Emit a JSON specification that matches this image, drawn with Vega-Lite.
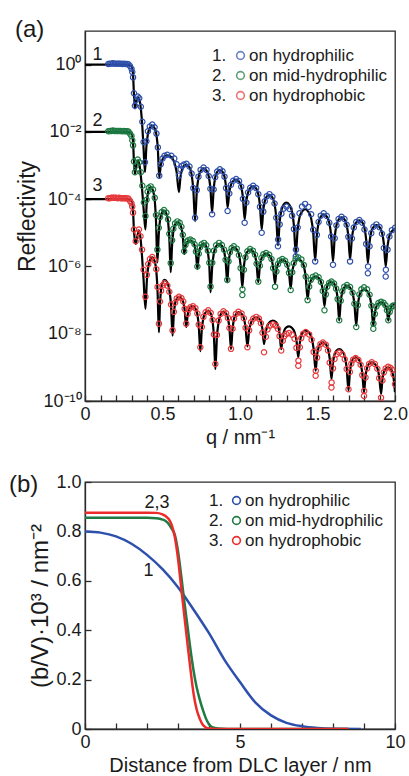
{
  "$schema": "https://vega.github.io/schema/vega-lite/v6.json",
  "padding": {"left": 8, "top": 17, "right": 0, "bottom": 0},
  "config": {
    "font": "Liberation Sans",
    "view": {"stroke": "#2b2b2b", "strokeWidth": 1.3},
    "axis": {"grid": false, "domainColor": "#2b2b2b", "domainWidth": 1.3, "tickColor": "#2b2b2b", "tickWidth": 1.3, "tickSize": -6, "labelPadding": 10, "labelFontSize": 18, "labelColor": "#1a1a1a", "labelOverlap": false, "labelFlush": false, "titleFontSize": 20, "titleFontWeight": "normal", "titleColor": "#1a1a1a", "labelFont": "Liberation Sans", "titleFont": "Liberation Sans"},
    "legend": {"labelFontSize": 17, "labelFont": "Liberation Sans", "labelColor": "#1a1a1a", "padding": 0, "rowPadding": 2},
    "title": {"fontSize": 24, "fontWeight": "normal", "anchor": "start", "frame": "bounds", "baseline": "middle", "offset": 0, "color": "#1a1a1a"}
  },
  "resolve": {
    "scale": {"color": "independent", "opacity": "independent"},
    "legend": {"color": "independent", "opacity": "independent"}
  },
  "datasets": {
    "names": [
      {"c": 1, "name": "on hydrophilic"},
      {"c": 2, "name": "on mid-hydrophilic"},
      {"c": 3, "name": "on hydrophobic"}
    ],
    "refl": [
      {"c":1,"q":0,"m":0},{"c":1,"q":0.15,"m":0,"d":0.02},{"c":1,"q":0.16,"d":0.03},{"c":1,"q":0.17,"d":0.03},{"c":1,"q":0.18,"d":0.04},{"c":1,"q":0.19,"d":0.03},{"c":1,"q":0.2,"d":0.03},{"c":1,"q":0.21,"d":0.03},{"c":1,"q":0.22,"d":0.03},{"c":1,"q":0.23,"d":0.03},{"c":1,"q":0.24,"d":0.02},{"c":1,"q":0.25,"d":0.03},{"c":1,"q":0.26,"d":0.02},{"c":1,"q":0.27,"d":0.02},
      {"c":1,"q":0.28,"m":0,"d":0.01},{"c":1,"q":0.29,"m":-0.02,"d":-0.04},{"c":1,"q":0.3,"m":-0.06,"d":-0.12},{"c":1,"q":0.305,"m":-0.12,"d":-0.22},{"c":1,"q":0.31,"m":-0.3,"d":-0.38},{"c":1,"q":0.316,"m":-0.9,"d":-0.85},{"c":1,"q":0.322,"m":-1.3,"d":-1.22},{"c":1,"q":0.33,"m":-1.12,"d":-1.05},{"c":1,"q":0.34,"m":-0.97,"d":-0.95},{"c":1,"q":0.35,"m":-1.02,"d":-1.0},{"c":1,"q":0.36,"m":-1.3,"d":-1.25},{"c":1,"q":0.37,"m":-1.85,"d":-1.7},{"c":1,"q":0.378,"m":-2.5,"d":-2.3},{"c":1,"q":0.387,"m":-3.2,"d":-2.9},
      {"c":1,"q":0.396,"m":-2.44,"d":-2.28},{"c":1,"q":0.406,"m":-2.06,"d":-1.98},{"c":1,"q":0.418,"m":-1.88,"d":-1.84},{"c":1,"q":0.434,"m":-1.81,"d":-1.78},{"c":1,"q":0.449,"m":-1.89,"d":-1.86},{"c":1,"q":0.461,"m":-2.09,"d":-2.05},{"c":1,"q":0.47,"m":-2.5,"d":-2.46},{"c":1,"q":0.479,"m":-3.35,"d":-3.3},
      {"c":1,"q":0.489,"m":-2.99,"d":-2.96},{"c":1,"q":0.5,"m":-2.82,"d":-2.79},{"c":1,"q":0.513,"m":-2.73,"d":-2.71},{"c":1,"q":0.531,"m":-2.7,"d":-2.68},{"c":1,"q":0.557,"m":-2.75,"d":-2.71},{"c":1,"q":0.576,"m":-2.9,"d":-2.79},{"c":1,"q":0.591,"m":-3.19,"d":-2.96},{"c":1,"q":0.606,"m":-3.79,"d":-3.3},
      {"c":1,"q":0.616,"m":-3.34,"d":-3.11},{"c":1,"q":0.626,"m":-3.12,"d":-3.01},{"c":1,"q":0.638,"m":-3.01,"d":-2.97},{"c":1,"q":0.655,"m":-2.97,"d":-2.95},{"c":1,"q":0.674,"m":-3.05,"d":-3.03},{"c":1,"q":0.688,"m":-3.27,"d":-3.24},{"c":1,"q":0.699,"m":-3.73,"d":-3.67},{"c":1,"q":0.71,"m":-4.65,"d":-4.55},
      {"c":1,"q":0.721,"m":-3.79,"d":-3.73},{"c":1,"q":0.732,"m":-3.36,"d":-3.33},{"c":1,"q":0.746,"m":-3.16,"d":-3.13},{"c":1,"q":0.765,"m":-3.08,"d":-3.06},{"c":1,"q":0.784,"m":-3.15,"d":-3.13},{"c":1,"q":0.798,"m":-3.32,"d":-3.31},{"c":1,"q":0.809,"m":-3.67,"d":-3.69},{"c":1,"q":0.82,"m":-4.4,"d":-4.45},
      {"c":1,"q":0.83,"m":-3.7,"d":-3.71},{"c":1,"q":0.84,"m":-3.36,"d":-3.35},{"c":1,"q":0.853,"m":-3.19,"d":-3.18},{"c":1,"q":0.87,"m":-3.13,"d":-3.11},{"c":1,"q":0.887,"m":-3.19,"d":-3.17},{"c":1,"q":0.9,"m":-3.33,"d":-3.33},{"c":1,"q":0.91,"m":-3.63,"d":-3.67},{"c":1,"q":0.92,"m":-4.25,"d":-4.35},
      {"c":1,"q":0.931,"m":-3.79,"d":-3.83},{"c":1,"q":0.942,"m":-3.57,"d":-3.57},{"c":1,"q":0.956,"m":-3.46,"d":-3.45},{"c":1,"q":0.975,"m":-3.42,"d":-3.4},{"c":1,"q":0.994,"m":-3.48,"d":-3.46},{"c":1,"q":1.008,"m":-3.63,"d":-3.63},{"c":1,"q":1.019,"m":-3.95,"d":-3.99},{"c":1,"q":1.03,"m":-4.6,"d":-4.7},
      {"c":1,"q":1.041,"m":-4.06,"d":-4.1},{"c":1,"q":1.052,"m":-3.8,"d":-3.8},{"c":1,"q":1.066,"m":-3.67,"d":-3.66},{"c":1,"q":1.085,"m":-3.62,"d":-3.6},{"c":1,"q":1.104,"m":-3.68,"d":-3.67},{"c":1,"q":1.118,"m":-3.85,"d":-3.85},{"c":1,"q":1.129,"m":-4.2,"d":-4.23},{"c":1,"q":1.14,"m":-4.9,"d":-5.0},
      {"c":1,"q":1.15,"m":-4.33,"d":-4.37},{"c":1,"q":1.16,"m":-4.06,"d":-4.06},{"c":1,"q":1.173,"m":-3.92,"d":-3.91},{"c":1,"q":1.19,"m":-3.87,"d":-3.85},{"c":1,"q":1.209,"m":-3.95,"d":-3.93},{"c":1,"q":1.223,"m":-4.14,"d":-4.13},{"c":1,"q":1.234,"m":-4.55,"d":-4.55},{"c":1,"q":1.245,"m":-5.37,"d":-5.4},{"c":1,"q":1.246,"d":-5.2},
      {"c":1,"q":1.256,"m":-4.67,"d":-4.75},{"c":1,"q":1.267,"m":-4.33,"d":-4.43},{"c":1,"q":1.281,"m":-4.16,"d":-4.28},{"c":1,"q":1.3,"m":-4.1,"d":-4.22},{"c":1,"q":1.32,"m":-4.18,"d":-4.29},{"c":1,"q":1.336,"m":-4.38,"d":-4.49},{"c":1,"q":1.348,"m":-4.79,"d":-4.89},{"c":1,"q":1.36,"m":-5.64,"d":-5.7},{"c":1,"q":1.361,"d":-5.5},
      {"c":1,"q":1.372,"m":-4.9,"d":-4.84},{"c":1,"q":1.384,"m":-4.54,"d":-4.42},{"c":1,"q":1.4,"m":-4.37,"d":-4.22},{"c":1,"q":1.42,"m":-4.3,"d":-4.14},{"c":1,"q":1.442,"m":-4.38,"d":-4.23},{"c":1,"q":1.459,"m":-4.57,"d":-4.45},{"c":1,"q":1.472,"m":-4.98,"d":-4.91},{"c":1,"q":1.485,"m":-5.82,"d":-5.85},
      {"c":1,"q":1.496,"m":-5.07,"d":-5.06},{"c":1,"q":1.507,"m":-4.7,"d":-4.68},{"c":1,"q":1.521,"m":-4.52,"d":-4.49},{"c":1,"q":1.54,"m":-4.45,"d":-4.42},{"c":1,"q":1.56,"m":-4.52,"d":-4.5},{"c":1,"q":1.576,"m":-4.7,"d":-4.7},{"c":1,"q":1.588,"m":-5.08,"d":-5.11},{"c":1,"q":1.6,"m":-5.85,"d":-5.95},
      {"c":1,"q":1.611,"m":-5.13,"d":-5.16},{"c":1,"q":1.622,"m":-4.78,"d":-4.78},{"c":1,"q":1.636,"m":-4.61,"d":-4.59},{"c":1,"q":1.655,"m":-4.54,"d":-4.52},{"c":1,"q":1.674,"m":-4.6,"d":-4.59},{"c":1,"q":1.688,"m":-4.77,"d":-4.76},{"c":1,"q":1.699,"m":-5.1,"d":-5.12},{"c":1,"q":1.71,"m":-5.79,"d":-5.85},
      {"c":1,"q":1.722,"m":-5.15,"d":-5.17},{"c":1,"q":1.734,"m":-4.84,"d":-4.84},{"c":1,"q":1.75,"m":-4.69,"d":-4.68},{"c":1,"q":1.77,"m":-4.63,"d":-4.62},{"c":1,"q":1.789,"m":-4.69,"d":-4.7},{"c":1,"q":1.803,"m":-4.86,"d":-4.9},{"c":1,"q":1.814,"m":-5.2,"d":-5.33},{"c":1,"q":1.825,"m":-5.9,"d":-6.2},{"c":1,"q":1.826,"d":-6.0},
      {"c":1,"q":1.836,"m":-5.28,"d":-5.4},{"c":1,"q":1.847,"m":-4.97,"d":-5.01},{"c":1,"q":1.861,"m":-4.83,"d":-4.82},{"c":1,"q":1.88,"m":-4.77,"d":-4.75},{"c":1,"q":1.9,"m":-4.83,"d":-4.83},{"c":1,"q":1.916,"m":-4.99,"d":-5.03},{"c":1,"q":1.928,"m":-5.32,"d":-5.45},{"c":1,"q":1.94,"m":-6.0,"d":-6.3},{"c":1,"q":1.941,"d":-6.1},
      {"c":1,"q":1.952,"m":-5.39,"d":-5.5},{"c":1,"q":1.964,"m":-5.09,"d":-5.11},{"c":1,"q":1.98,"m":-4.95,"d":-4.92},{"c":1,"q":2.0,"m":-4.89,"d":-4.85},

      {"c":2,"q":0,"m":-2},{"c":2,"q":0.15,"m":-2,"d":-1.98},{"c":2,"q":0.16,"d":-1.97},{"c":2,"q":0.17,"d":-1.97},{"c":2,"q":0.18,"d":-1.96},{"c":2,"q":0.19,"d":-1.97},{"c":2,"q":0.2,"d":-1.97},{"c":2,"q":0.21,"d":-1.97},{"c":2,"q":0.22,"d":-1.97},{"c":2,"q":0.23,"d":-1.97},{"c":2,"q":0.24,"d":-1.98},{"c":2,"q":0.25,"d":-1.97},{"c":2,"q":0.26,"d":-1.98},{"c":2,"q":0.27,"d":-1.98},
      {"c":2,"q":0.28,"m":-2,"d":-1.99},{"c":2,"q":0.29,"m":-2.02,"d":-2.05},{"c":2,"q":0.3,"m":-2.06,"d":-2.12},{"c":2,"q":0.305,"m":-2.12,"d":-2.25},{"c":2,"q":0.31,"m":-2.3,"d":-2.4},{"c":2,"q":0.316,"m":-2.9,"d":-2.88},{"c":2,"q":0.322,"m":-3.25,"d":-3.2},{"c":2,"q":0.33,"m":-3.05,"d":-3.0},{"c":2,"q":0.34,"m":-2.85,"d":-2.82},{"c":2,"q":0.35,"m":-2.95,"d":-2.9},{"c":2,"q":0.36,"m":-3.3,"d":-3.2},{"c":2,"q":0.37,"m":-3.8,"d":-3.6},{"c":2,"q":0.38,"m":-4.4,"d":-4.1},{"c":2,"q":0.39,"m":-4.9,"d":-4.5},
      {"c":2,"q":0.397,"m":-4.21,"d":-4.02},{"c":2,"q":0.404,"m":-3.87,"d":-3.78},{"c":2,"q":0.412,"m":-3.7,"d":-3.66},{"c":2,"q":0.424,"m":-3.64,"d":-3.62},{"c":2,"q":0.439,"m":-3.75,"d":-3.71},{"c":2,"q":0.45,"m":-4.04,"d":-3.96},{"c":2,"q":0.458,"m":-4.65,"d":-4.47},{"c":2,"q":0.467,"m":-5.88,"d":-5.5},
      {"c":2,"q":0.476,"m":-5.03,"d":-4.85},{"c":2,"q":0.484,"m":-4.62,"d":-4.53},{"c":2,"q":0.495,"m":-4.42,"d":-4.38},{"c":2,"q":0.51,"m":-4.34,"d":-4.32},{"c":2,"q":0.525,"m":-4.43,"d":-4.4},{"c":2,"q":0.536,"m":-4.67,"d":-4.6},{"c":2,"q":0.544,"m":-5.16,"d":-5.03},{"c":2,"q":0.553,"m":-6.17,"d":-5.9},
      {"c":2,"q":0.562,"m":-5.35,"d":-5.22},{"c":2,"q":0.57,"m":-4.95,"d":-4.88},{"c":2,"q":0.581,"m":-4.75,"d":-4.72},{"c":2,"q":0.596,"m":-4.68,"d":-4.66},{"c":2,"q":0.611,"m":-4.73,"d":-4.7},{"c":2,"q":0.622,"m":-4.85,"d":-4.82},{"c":2,"q":0.631,"m":-5.11,"d":-5.06},{"c":2,"q":0.64,"m":-5.63,"d":-5.55},
      {"c":2,"q":0.648,"m":-5.41,"d":-5.36},{"c":2,"q":0.656,"m":-5.3,"d":-5.26},{"c":2,"q":0.666,"m":-5.25,"d":-5.22},{"c":2,"q":0.68,"m":-5.23,"d":-5.2},{"c":2,"q":0.695,"m":-5.27,"d":-5.24},{"c":2,"q":0.707,"m":-5.38,"d":-5.34},{"c":2,"q":0.716,"m":-5.61,"d":-5.56},{"c":2,"q":0.725,"m":-6.07,"d":-6.0},
      {"c":2,"q":0.734,"m":-5.66,"d":-5.62},{"c":2,"q":0.742,"m":-5.46,"d":-5.43},{"c":2,"q":0.753,"m":-5.37,"d":-5.34},{"c":2,"q":0.768,"m":-5.33,"d":-5.3},{"c":2,"q":0.782,"m":-5.4,"d":-5.37},{"c":2,"q":0.793,"m":-5.59,"d":-5.53},{"c":2,"q":0.802,"m":-5.98,"d":-5.89},{"c":2,"q":0.81,"m":-6.77,"d":-6.6},
      {"c":2,"q":0.821,"m":-5.98,"d":-5.89},{"c":2,"q":0.832,"m":-5.59,"d":-5.53},{"c":2,"q":0.846,"m":-5.4,"d":-5.37},{"c":2,"q":0.865,"m":-5.33,"d":-5.3},{"c":2,"q":0.883,"m":-5.39,"d":-5.36},{"c":2,"q":0.897,"m":-5.54,"d":-5.5},{"c":2,"q":0.907,"m":-5.84,"d":-5.8},{"c":2,"q":0.918,"m":-6.47,"d":-6.4},
      {"c":2,"q":0.926,"m":-5.9,"d":-5.85},{"c":2,"q":0.935,"m":-5.62,"d":-5.58},{"c":2,"q":0.946,"m":-5.48,"d":-5.45},{"c":2,"q":0.96,"m":-5.43,"d":-5.4},{"c":2,"q":0.979,"m":-5.49,"d":-5.47},{"c":2,"q":0.993,"m":-5.64,"d":-5.66},{"c":2,"q":1.004,"m":-5.97,"d":-6.05},{"c":2,"q":1.015,"m":-6.62,"d":-6.85},{"c":2,"q":1.016,"d":-6.68},
      {"c":2,"q":1.025,"m":-6.0,"d":-6.1},{"c":2,"q":1.035,"m":-5.7,"d":-5.73},{"c":2,"q":1.048,"m":-5.56,"d":-5.55},{"c":2,"q":1.065,"m":-5.5,"d":-5.48},{"c":2,"q":1.083,"m":-5.55,"d":-5.53},{"c":2,"q":1.097,"m":-5.67,"d":-5.65},{"c":2,"q":1.107,"m":-5.94,"d":-5.92},{"c":2,"q":1.118,"m":-6.47,"d":-6.45},
      {"c":2,"q":1.128,"m":-6.0,"d":-5.98},{"c":2,"q":1.138,"m":-5.77,"d":-5.75},{"c":2,"q":1.151,"m":-5.66,"d":-5.64},{"c":2,"q":1.168,"m":-5.62,"d":-5.6},{"c":2,"q":1.188,"m":-5.67,"d":-5.65},{"c":2,"q":1.203,"m":-5.78,"d":-5.78},{"c":2,"q":1.214,"m":-6.03,"d":-6.05},{"c":2,"q":1.226,"m":-6.52,"d":-6.6},
      {"c":2,"q":1.235,"m":-6.12,"d":-6.15},{"c":2,"q":1.245,"m":-5.93,"d":-5.93},{"c":2,"q":1.257,"m":-5.84,"d":-5.82},{"c":2,"q":1.273,"m":-5.8,"d":-5.78},{"c":2,"q":1.291,"m":-5.84,"d":-5.83},{"c":2,"q":1.305,"m":-5.95,"d":-5.95},{"c":2,"q":1.316,"m":-6.18,"d":-6.19},{"c":2,"q":1.327,"m":-6.65,"d":-6.7},
      {"c":2,"q":1.337,"m":-6.17,"d":-6.17},{"c":2,"q":1.347,"m":-5.94,"d":-5.9},{"c":2,"q":1.359,"m":-5.82,"d":-5.78},{"c":2,"q":1.376,"m":-5.78,"d":-5.73},{"c":2,"q":1.396,"m":-5.84,"d":-5.79},{"c":2,"q":1.412,"m":-5.99,"d":-5.96},{"c":2,"q":1.424,"m":-6.32,"d":-6.3},{"c":2,"q":1.436,"m":-6.97,"d":-7.0},
      {"c":2,"q":1.446,"m":-6.6,"d":-6.6},{"c":2,"q":1.457,"m":-6.42,"d":-6.4},{"c":2,"q":1.47,"m":-6.33,"d":-6.31},{"c":2,"q":1.488,"m":-6.3,"d":-6.27},{"c":2,"q":1.507,"m":-6.34,"d":-6.32},{"c":2,"q":1.522,"m":-6.46,"d":-6.46},{"c":2,"q":1.534,"m":-6.7,"d":-6.73},{"c":2,"q":1.545,"m":-7.18,"d":-7.3},
      {"c":2,"q":1.554,"m":-6.78,"d":-6.83},{"c":2,"q":1.563,"m":-6.58,"d":-6.6},{"c":2,"q":1.575,"m":-6.49,"d":-6.49},{"c":2,"q":1.59,"m":-6.45,"d":-6.45},{"c":2,"q":1.607,"m":-6.51,"d":-6.51},{"c":2,"q":1.62,"m":-6.66,"d":-6.66},{"c":2,"q":1.63,"m":-6.97,"d":-6.97},{"c":2,"q":1.64,"m":-7.61,"d":-7.6},
      {"c":2,"q":1.65,"m":-7.04,"d":-7.02},{"c":2,"q":1.66,"m":-6.76,"d":-6.74},{"c":2,"q":1.673,"m":-6.62,"d":-6.6},{"c":2,"q":1.69,"m":-6.57,"d":-6.55},{"c":2,"q":1.71,"m":-6.63,"d":-6.61},{"c":2,"q":1.726,"m":-6.78,"d":-6.78},{"c":2,"q":1.738,"m":-7.11,"d":-7.11},{"c":2,"q":1.75,"m":-7.76,"d":-7.8},
      {"c":2,"q":1.76,"m":-7.17,"d":-7.15},{"c":2,"q":1.77,"m":-6.87,"d":-6.83},{"c":2,"q":1.783,"m":-6.73,"d":-6.68},{"c":2,"q":1.8,"m":-6.68,"d":-6.62},{"c":2,"q":1.82,"m":-6.73,"d":-6.68},{"c":2,"q":1.836,"m":-6.87,"d":-6.84},{"c":2,"q":1.848,"m":-7.17,"d":-7.17},{"c":2,"q":1.86,"m":-7.76,"d":-7.85},{"c":2,"q":1.861,"d":-7.7},
      {"c":2,"q":1.87,"m":-7.38,"d":-7.41},{"c":2,"q":1.88,"m":-7.19,"d":-7.19},{"c":2,"q":1.893,"m":-7.1,"d":-7.09},{"c":2,"q":1.91,"m":-7.07,"d":-7.05},{"c":2,"q":1.926,"m":-7.1,"d":-7.08},{"c":2,"q":1.938,"m":-7.17,"d":-7.15},{"c":2,"q":1.948,"m":-7.31,"d":-7.3},{"c":2,"q":1.957,"m":-7.61,"d":-7.6},
      {"c":2,"q":1.966,"m":-7.34,"d":-7.35},{"c":2,"q":1.974,"m":-7.21,"d":-7.23},{"c":2,"q":1.985,"m":-7.14,"d":-7.17},{"c":2,"q":2.0,"m":-7.12,"d":-7.15},

      {"c":3,"q":0,"m":-4},{"c":3,"q":0.15,"m":-4,"d":-3.97},{"c":3,"q":0.16,"d":-3.97},{"c":3,"q":0.17,"d":-3.96},{"c":3,"q":0.18,"d":-3.96},{"c":3,"q":0.19,"d":-3.96},{"c":3,"q":0.2,"d":-3.96},{"c":3,"q":0.21,"d":-3.97},{"c":3,"q":0.22,"d":-3.96},{"c":3,"q":0.23,"d":-3.97},{"c":3,"q":0.24,"d":-3.97},{"c":3,"q":0.25,"d":-3.97},{"c":3,"q":0.26,"d":-3.97},{"c":3,"q":0.27,"d":-3.98},
      {"c":3,"q":0.28,"m":-4,"d":-3.98},{"c":3,"q":0.29,"m":-4.02,"d":-4.05},{"c":3,"q":0.3,"m":-4.06,"d":-4.12},{"c":3,"q":0.305,"m":-4.12,"d":-4.22},{"c":3,"q":0.31,"m":-4.35,"d":-4.4},{"c":3,"q":0.316,"m":-4.95,"d":-4.9},{"c":3,"q":0.327,"m":-5.33,"d":-5.25},{"c":3,"q":0.338,"m":-5.1,"d":-5.0},{"c":3,"q":0.348,"m":-4.93,"d":-4.9},{"c":3,"q":0.358,"m":-5.15,"d":-5.1},{"c":3,"q":0.368,"m":-5.7,"d":-5.5},{"c":3,"q":0.378,"m":-6.4,"d":-6.1},{"c":3,"q":0.39,"m":-7.26,"d":-6.9},
      {"c":3,"q":0.399,"m":-6.42,"d":-6.25},{"c":3,"q":0.408,"m":-6.01,"d":-5.93},{"c":3,"q":0.419,"m":-5.81,"d":-5.78},{"c":3,"q":0.434,"m":-5.73,"d":-5.72},{"c":3,"q":0.449,"m":-5.84,"d":-5.82},{"c":3,"q":0.46,"m":-6.13,"d":-6.08},{"c":3,"q":0.468,"m":-6.73,"d":-6.61},{"c":3,"q":0.477,"m":-7.96,"d":-7.7},
      {"c":3,"q":0.484,"m":-7.1,"d":-7.04},{"c":3,"q":0.491,"m":-6.68,"d":-6.72},{"c":3,"q":0.501,"m":-6.48,"d":-6.56},{"c":3,"q":0.513,"m":-6.4,"d":-6.5},{"c":3,"q":0.531,"m":-6.48,"d":-6.57},{"c":3,"q":0.544,"m":-6.7,"d":-6.75},{"c":3,"q":0.555,"m":-7.15,"d":-7.13},{"c":3,"q":0.565,"m":-8.06,"d":-7.9},
      {"c":3,"q":0.573,"m":-7.42,"d":-7.35},{"c":3,"q":0.581,"m":-7.11,"d":-7.08},{"c":3,"q":0.592,"m":-6.96,"d":-6.95},{"c":3,"q":0.606,"m":-6.9,"d":-6.9},{"c":3,"q":0.622,"m":-6.95,"d":-6.94},{"c":3,"q":0.634,"m":-7.06,"d":-7.04},{"c":3,"q":0.643,"m":-7.3,"d":-7.26},{"c":3,"q":0.653,"m":-7.8,"d":-7.7},
      {"c":3,"q":0.662,"m":-7.46,"d":-7.41},{"c":3,"q":0.67,"m":-7.29,"d":-7.27},{"c":3,"q":0.681,"m":-7.21,"d":-7.21},{"c":3,"q":0.696,"m":-7.18,"d":-7.18},{"c":3,"q":0.712,"m":-7.25,"d":-7.24},{"c":3,"q":0.725,"m":-7.42,"d":-7.4},{"c":3,"q":0.734,"m":-7.78,"d":-7.73},{"c":3,"q":0.744,"m":-8.52,"d":-8.4},
      {"c":3,"q":0.754,"m":-7.85,"d":-7.8},{"c":3,"q":0.764,"m":-7.53,"d":-7.5},{"c":3,"q":0.778,"m":-7.37,"d":-7.36},{"c":3,"q":0.795,"m":-7.31,"d":-7.3},{"c":3,"q":0.811,"m":-7.4,"d":-7.38},{"c":3,"q":0.823,"m":-7.62,"d":-7.59},{"c":3,"q":0.832,"m":-8.09,"d":-8.02},{"c":3,"q":0.841,"m":-9.05,"d":-8.9},
      {"c":3,"q":0.851,"m":-8.11,"d":-8.04},{"c":3,"q":0.862,"m":-7.65,"d":-7.61},{"c":3,"q":0.875,"m":-7.43,"d":-7.41},{"c":3,"q":0.893,"m":-7.34,"d":-7.33},{"c":3,"q":0.91,"m":-7.4,"d":-7.39},{"c":3,"q":0.922,"m":-7.54,"d":-7.53},{"c":3,"q":0.932,"m":-7.84,"d":-7.83},{"c":3,"q":0.942,"m":-8.46,"d":-8.45},
      {"c":3,"q":0.952,"m":-7.86,"d":-7.85},{"c":3,"q":0.961,"m":-7.56,"d":-7.55},{"c":3,"q":0.974,"m":-7.42,"d":-7.41},{"c":3,"q":0.99,"m":-7.36,"d":-7.35},{"c":3,"q":1.01,"m":-7.41,"d":-7.4},{"c":3,"q":1.025,"m":-7.54,"d":-7.54},{"c":3,"q":1.036,"m":-7.82,"d":-7.82},{"c":3,"q":1.048,"m":-8.38,"d":-8.4},
      {"c":3,"q":1.059,"m":-7.9,"d":-7.9},{"c":3,"q":1.071,"m":-7.67,"d":-7.66},{"c":3,"q":1.086,"m":-7.55,"d":-7.55},{"c":3,"q":1.105,"m":-7.51,"d":-7.5},{"c":3,"q":1.122,"m":-7.55,"d":-7.55},{"c":3,"q":1.135,"m":-7.65,"d":-7.69},{"c":3,"q":1.145,"m":-7.87,"d":-7.97},{"c":3,"q":1.155,"m":-8.31,"d":-8.55},
      {"c":3,"q":1.167,"m":-7.93,"d":-8.09},{"c":3,"q":1.178,"m":-7.74,"d":-7.87},{"c":3,"q":1.193,"m":-7.65,"d":-7.76},{"c":3,"q":1.213,"m":-7.61,"d":-7.72},{"c":3,"q":1.231,"m":-7.65,"d":-7.76},{"c":3,"q":1.245,"m":-7.76,"d":-7.86},{"c":3,"q":1.255,"m":-7.99,"d":-8.07},{"c":3,"q":1.266,"m":-8.46,"d":-8.5},
      {"c":3,"q":1.276,"m":-8.09,"d":-8.21},{"c":3,"q":1.286,"m":-7.9,"d":-8.07},{"c":3,"q":1.299,"m":-7.81,"d":-8.01},{"c":3,"q":1.316,"m":-7.78,"d":-7.98},{"c":3,"q":1.336,"m":-7.83,"d":-8.03},{"c":3,"q":1.352,"m":-7.95,"d":-8.15},{"c":3,"q":1.364,"m":-8.19,"d":-8.42},{"c":3,"q":1.376,"m":-8.7,"d":-8.95},{"c":3,"q":1.377,"d":-8.8},
      {"c":3,"q":1.386,"m":-8.27,"d":-8.4},{"c":3,"q":1.395,"m":-8.05,"d":-8.13},{"c":3,"q":1.408,"m":-7.95,"d":-8.0},{"c":3,"q":1.424,"m":-7.91,"d":-7.95},{"c":3,"q":1.446,"m":-7.97,"d":-8.02},{"c":3,"q":1.462,"m":-8.12,"d":-8.18},{"c":3,"q":1.475,"m":-8.45,"d":-8.54},{"c":3,"q":1.488,"m":-9.1,"d":-9.25},{"c":3,"q":1.489,"d":-9.1},
      {"c":3,"q":1.497,"m":-8.64,"d":-8.71},{"c":3,"q":1.507,"m":-8.41,"d":-8.44},{"c":3,"q":1.519,"m":-8.3,"d":-8.31},{"c":3,"q":1.535,"m":-8.26,"d":-8.26},{"c":3,"q":1.554,"m":-8.31,"d":-8.33},{"c":3,"q":1.568,"m":-8.46,"d":-8.5},{"c":3,"q":1.579,"m":-8.75,"d":-8.86},{"c":3,"q":1.59,"m":-9.35,"d":-9.6},{"c":3,"q":1.591,"d":-9.45},
      {"c":3,"q":1.6,"m":-8.86,"d":-9.03},{"c":3,"q":1.61,"m":-8.62,"d":-8.75},{"c":3,"q":1.623,"m":-8.5,"d":-8.61},{"c":3,"q":1.64,"m":-8.46,"d":-8.56},{"c":3,"q":1.66,"m":-8.52,"d":-8.61},{"c":3,"q":1.676,"m":-8.68,"d":-8.76},{"c":3,"q":1.688,"m":-9.01,"d":-9.05},{"c":3,"q":1.7,"m":-9.69,"d":-9.65},
      {"c":3,"q":1.709,"m":-9.15,"d":-9.14},{"c":3,"q":1.718,"m":-8.88,"d":-8.89},{"c":3,"q":1.73,"m":-8.75,"d":-8.77},{"c":3,"q":1.746,"m":-8.7,"d":-8.72},{"c":3,"q":1.764,"m":-8.75,"d":-8.78},{"c":3,"q":1.778,"m":-8.89,"d":-8.92},{"c":3,"q":1.789,"m":-9.17,"d":-9.23},{"c":3,"q":1.8,"m":-9.74,"d":-9.85},{"c":3,"q":1.801,"d":-9.7},
      {"c":3,"q":1.81,"m":-9.25,"d":-9.3},{"c":3,"q":1.82,"m":-9.01,"d":-9.03},{"c":3,"q":1.833,"m":-8.89,"d":-8.9},{"c":3,"q":1.85,"m":-8.85,"d":-8.85},{"c":3,"q":1.87,"m":-8.9,"d":-8.9},{"c":3,"q":1.886,"m":-9.02,"d":-9.04},{"c":3,"q":1.898,"m":-9.27,"d":-9.32},{"c":3,"q":1.91,"m":-9.79,"d":-9.9},
      {"c":3,"q":1.919,"m":-9.36,"d":-9.39},{"c":3,"q":1.928,"m":-9.14,"d":-9.15},{"c":3,"q":1.94,"m":-9.04,"d":-9.03},{"c":3,"q":1.955,"m":-9.0,"d":-8.98},{"c":3,"q":1.97,"m":-9.04,"d":-9.01},{"c":3,"q":1.982,"m":-9.13,"d":-9.07},{"c":3,"q":1.991,"m":-9.33,"d":-9.21},{"c":3,"q":2.0,"m":-9.74,"d":-9.5}
    ],
    "sld": [
      {"c":1,"z":0,"r":0.8},{"c":1,"z":0.5,"r":0.795},{"c":1,"z":1,"r":0.78},{"c":1,"z":1.5,"r":0.75},{"c":1,"z":2,"r":0.705},{"c":1,"z":2.5,"r":0.647},{"c":1,"z":3,"r":0.574},{"c":1,"z":3.5,"r":0.484},{"c":1,"z":4,"r":0.388},{"c":1,"z":4.5,"r":0.28},{"c":1,"z":5,"r":0.19},{"c":1,"z":5.5,"r":0.107},{"c":1,"z":6,"r":0.055},{"c":1,"z":6.5,"r":0.025},{"c":1,"z":7,"r":0.011},{"c":1,"z":7.5,"r":0.004},{"c":1,"z":8,"r":0.001},{"c":1,"z":8.9,"r":0},
      {"c":2,"z":0,"r":0.855},{"c":2,"z":1,"r":0.855},{"c":2,"z":2,"r":0.855},{"c":2,"z":2.3,"r":0.853},{"c":2,"z":2.5,"r":0.848},{"c":2,"z":2.6,"r":0.842},{"c":2,"z":2.7,"r":0.83},{"c":2,"z":2.8,"r":0.81},{"c":2,"z":2.9,"r":0.785},{"c":2,"z":3,"r":0.72},{"c":2,"z":3.1,"r":0.625},{"c":2,"z":3.2,"r":0.52},{"c":2,"z":3.3,"r":0.422},{"c":2,"z":3.4,"r":0.324},{"c":2,"z":3.5,"r":0.238},{"c":2,"z":3.6,"r":0.17},{"c":2,"z":3.7,"r":0.12},{"c":2,"z":3.8,"r":0.078},{"c":2,"z":3.9,"r":0.043},{"c":2,"z":4,"r":0.019},{"c":2,"z":4.1,"r":0.008},{"c":2,"z":4.3,"r":0.002},{"c":2,"z":4.6,"r":0},{"c":2,"z":8.5,"r":0},
      {"c":3,"z":0,"r":0.876},{"c":3,"z":1,"r":0.876},{"c":3,"z":2,"r":0.876},{"c":3,"z":2.3,"r":0.875},{"c":3,"z":2.48,"r":0.87},{"c":3,"z":2.6,"r":0.862},{"c":3,"z":2.7,"r":0.85},{"c":3,"z":2.8,"r":0.825},{"c":3,"z":2.9,"r":0.775},{"c":3,"z":3,"r":0.69},{"c":3,"z":3.1,"r":0.577},{"c":3,"z":3.2,"r":0.463},{"c":3,"z":3.3,"r":0.352},{"c":3,"z":3.4,"r":0.243},{"c":3,"z":3.5,"r":0.145},{"c":3,"z":3.6,"r":0.08},{"c":3,"z":3.7,"r":0.042},{"c":3,"z":3.8,"r":0.017},{"c":3,"z":3.9,"r":0.006},{"c":3,"z":4,"r":0.002},{"c":3,"z":4.2,"r":0},{"c":3,"z":8.5,"r":0}
    ]
  },
  "spacing": 24,
  "vconcat": [
    {
      "width": 310,
      "height": 370,
      "title": {"text": "(a)", "dx": -2, "dy": 15},
      "encoding": {
        "x": {"field": "q", "type": "quantitative", "scale": {"domain": [0, 2], "nice": false},
          "axis": {"title": "q / nm⁻¹", "titlePadding": 4, "labelOverlap": false, "values": [0,0.1,0.2,0.3,0.4,0.5,0.6,0.7,0.8,0.9,1,1.1,1.2,1.3,1.4,1.5,1.6,1.7,1.8,1.9,2],
            "labelExpr": "datum.value == 0 ? '0' : ((datum.value == 0.5 || datum.value == 1 || datum.value == 1.5 || datum.value == 2) ? format(datum.value, '.1f') : '')"}}
      },
      "layer": [
        {
          "data": {"name": "refl"},
          "transform": [{"filter": "isValid(datum.m)"}],
          "mark": {"type": "line", "color": "#000000", "strokeWidth": 2.2, "interpolate": "monotone", "clip": true},
          "encoding": {
            "y": {"field": "m", "type": "quantitative", "scale": {"domain": [-10, 1], "nice": false, "zero": false},
              "axis": {"title": "Reflectivity", "titleFontSize": 23, "titlePadding": 3, "labelOverlap": false, "values": [-10,-9,-8,-7,-6,-5,-4,-3,-2,-1,0],
                "labelExpr": "datum.value == 0 ? '10⁰' : datum.value == -2 ? '10⁻²' : datum.value == -4 ? '10⁻⁴' : datum.value == -6 ? '10⁻⁶' : datum.value == -8 ? '10⁻⁸' : datum.value == -10 ? '10⁻¹⁰' : ''"}},
            "detail": {"field": "c", "type": "nominal"}
          }
        },
        {
          "data": {"name": "refl"},
          "transform": [
            {"filter": "isValid(datum.d)"},
            {"lookup": "c", "from": {"data": {"name": "names"}, "key": "c", "fields": ["name"]}}
          ],
          "mark": {"type": "point", "filled": false, "size": 28, "strokeWidth": 1.2, "clip": true},
          "encoding": {
            "y": {"field": "d", "type": "quantitative", "title": "Reflectivity"},
            "color": {"field": "name", "type": "nominal", "sort": null,
              "scale": {"domain": ["on hydrophilic", "on mid-hydrophilic", "on hydrophobic"], "range": ["#2e50ad", "#1d7b43", "#e8393c"]},
              "legend": {"orient": "none", "legendX": 147, "legendY": 16, "title": null, "symbolType": "circle", "symbolSize": 60, "symbolStrokeWidth": 1.6, "labelOffset": 0}},
            "opacity": {"field": "c", "type": "ordinal", "scale": {"range": [1, 1]},
              "legend": {"orient": "none", "legendX": 110, "legendY": 16, "title": null, "symbolSize": 0, "symbolOpacity": 0, "symbolStrokeWidth": 0, "labelOffset": 0, "labelExpr": "datum.label + '.'"}}
          }
        },
        {
          "data": {"values": [{"q": 0.08, "v": 0.3, "t": "1"}, {"q": 0.08, "v": -1.68, "t": "2"}, {"q": 0.08, "v": -3.61, "t": "3"}]},
          "mark": {"type": "text", "fontSize": 18, "color": "#1a1a1a"},
          "encoding": {
            "y": {"field": "v", "type": "quantitative", "title": "Reflectivity"},
            "text": {"field": "t"}
          }
        }
      ]
    },
    {
      "width": 310,
      "height": 247,
      "title": {"text": "(b)", "dx": -20, "dy": 28},
      "encoding": {
        "x": {"field": "z", "type": "quantitative", "scale": {"domain": [0, 10], "nice": false},
          "axis": {"title": "Distance from DLC layer / nm", "titlePadding": 4, "labelOverlap": false, "values": [0,1,2,3,4,5,6,7,8,9,10], "labelExpr": "datum.value % 5 == 0 ? datum.label : ''"}}
      },
      "layer": [
        {
          "data": {"name": "sld"},
          "transform": [{"lookup": "c", "from": {"data": {"name": "names"}, "key": "c", "fields": ["name"]}}],
          "mark": {"type": "line", "strokeWidth": 2.5, "interpolate": "monotone", "clip": true},
          "encoding": {
            "y": {"field": "r", "type": "quantitative", "scale": {"domain": [0, 1], "nice": false},
              "axis": {"title": "(b/V)·10³ / nm⁻²", "titleFontSize": 24, "titlePadding": 3, "labelOverlap": false, "values": [0,0.1,0.2,0.3,0.4,0.5,0.6,0.7,0.8,0.9,1],
                "labelExpr": "datum.value == 0 ? '0' : (round(datum.value * 10) % 2 == 0 ? format(datum.value, '.1f') : '')"}},
            "color": {"field": "name", "type": "nominal", "sort": null,
              "scale": {"domain": ["on hydrophilic", "on mid-hydrophilic", "on hydrophobic"], "range": ["#2e50ad", "#1d7b43", "#ee2b2b"]},
              "legend": {"orient": "none", "legendX": 143, "legendY": 10, "title": null, "symbolType": "circle", "symbolSize": 60, "symbolStrokeWidth": 1.6, "symbolFillColor": "transparent", "labelOffset": 0}},
            "opacity": {"field": "c", "type": "ordinal", "scale": {"range": [1, 1]},
              "legend": {"orient": "none", "legendX": 107, "legendY": 10, "title": null, "symbolSize": 0, "symbolOpacity": 0, "symbolStrokeWidth": 0, "labelOffset": 0, "labelExpr": "datum.label + '.'"}}
          }
        },
        {
          "data": {"values": [{"z": 2.32, "v": 0.917, "t": "2,3"}, {"z": 2.05, "v": 0.64, "t": "1"}]},
          "mark": {"type": "text", "fontSize": 18, "color": "#1a1a1a"},
          "encoding": {
            "y": {"field": "v", "type": "quantitative", "title": "(b/V)·10³ / nm⁻²"},
            "text": {"field": "t"}
          }
        }
      ]
    }
  ]
}
